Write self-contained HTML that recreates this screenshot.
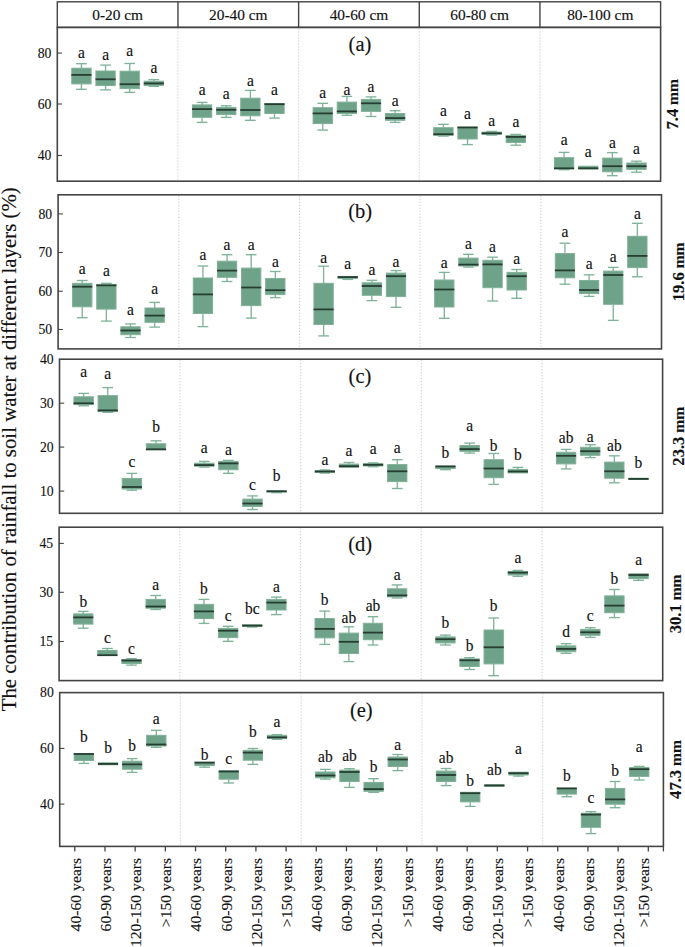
<!DOCTYPE html>
<html><head><meta charset="utf-8"><title>Boxplots</title>
<style>html,body{margin:0;padding:0;background:#fff;width:685px;height:947px;overflow:hidden}svg{display:block}
text{font-family:"Liberation Serif",serif;stroke:#151515;stroke-width:0.15px}</style></head>
<body>
<svg width="685" height="947" viewBox="0 0 685 947">
<rect width="685" height="947" fill="#fff"/>
<g fill="none" stroke="#444444" stroke-width="1.4">
<rect x="57.3" y="1.8" width="603.3" height="25.6"/>
<line x1="177.96" y1="1.8" x2="177.96" y2="27.4"/>
<line x1="298.62" y1="1.8" x2="298.62" y2="27.4"/>
<line x1="419.28" y1="1.8" x2="419.28" y2="27.4"/>
<line x1="539.94" y1="1.8" x2="539.94" y2="27.4"/>
</g>
<g font-family="Liberation Serif" font-size="15.4" fill="#111" text-anchor="middle">
<text x="117.63" y="20.1">0-20 cm</text>
<text x="238.29" y="20.1">20-40 cm</text>
<text x="358.95" y="20.1">40-60 cm</text>
<text x="479.61" y="20.1">60-80 cm</text>
<text x="600.27" y="20.1">80-100 cm</text>
</g>
<g stroke="#c8c8c8" stroke-width="1.2" stroke-dasharray="1 2">
<line x1="177.96" y1="28.4" x2="177.96" y2="180.2"/>
<line x1="298.62" y1="28.4" x2="298.62" y2="180.2"/>
<line x1="419.28" y1="28.4" x2="419.28" y2="180.2"/>
<line x1="539.94" y1="28.4" x2="539.94" y2="180.2"/>
</g>
<g stroke="#80b49a" stroke-width="1.35">
<line x1="81.43" y1="63.7" x2="81.43" y2="68.2"/>
<line x1="76.08" y1="63.7" x2="86.78" y2="63.7"/>
<line x1="81.43" y1="83.9" x2="81.43" y2="89.3"/>
<line x1="76.08" y1="89.3" x2="86.78" y2="89.3"/>
</g>
<rect x="71.78" y="68.2" width="19.3" height="15.7" fill="#6fa389" stroke="#7fb096" stroke-width="1"/>
<line x1="71.38" y1="74.9" x2="91.48" y2="74.9" stroke="#263d31" stroke-width="1.8"/>
<text x="0" y="0" transform="translate(81.43 57.6) scale(1 1.1) translate(0 0)" font-family="Liberation Serif" font-size="15.5" fill="#111" text-anchor="middle">a</text>
<g stroke="#80b49a" stroke-width="1.35">
<line x1="105.56" y1="65.1" x2="105.56" y2="71"/>
<line x1="100.21" y1="65.1" x2="110.91" y2="65.1"/>
<line x1="105.56" y1="85.6" x2="105.56" y2="89.9"/>
<line x1="100.21" y1="89.9" x2="110.91" y2="89.9"/>
</g>
<rect x="95.91" y="71" width="19.3" height="14.6" fill="#6fa389" stroke="#7fb096" stroke-width="1"/>
<line x1="95.51" y1="79.3" x2="115.61" y2="79.3" stroke="#263d31" stroke-width="1.8"/>
<text x="0" y="0" transform="translate(105.56 60.2) scale(1 1.1) translate(0 0)" font-family="Liberation Serif" font-size="15.5" fill="#111" text-anchor="middle">a</text>
<g stroke="#80b49a" stroke-width="1.35">
<line x1="129.7" y1="63.5" x2="129.7" y2="71.2"/>
<line x1="124.35" y1="63.5" x2="135.05" y2="63.5"/>
<line x1="129.7" y1="88.6" x2="129.7" y2="92.4"/>
<line x1="124.35" y1="92.4" x2="135.05" y2="92.4"/>
</g>
<rect x="120.05" y="71.2" width="19.3" height="17.4" fill="#6fa389" stroke="#7fb096" stroke-width="1"/>
<line x1="119.65" y1="84.2" x2="139.75" y2="84.2" stroke="#263d31" stroke-width="1.8"/>
<text x="0" y="0" transform="translate(129.7 56.2) scale(1 1.1) translate(0 0)" font-family="Liberation Serif" font-size="15.5" fill="#111" text-anchor="middle">a</text>
<g stroke="#80b49a" stroke-width="1.35">
<line x1="153.83" y1="79.6" x2="153.83" y2="81.2"/>
<line x1="148.48" y1="79.6" x2="159.18" y2="79.6"/>
<line x1="153.83" y1="85.4" x2="153.83" y2="86.3"/>
<line x1="148.48" y1="86.3" x2="159.18" y2="86.3"/>
</g>
<rect x="144.18" y="81.2" width="19.3" height="4.2" fill="#6fa389" stroke="#7fb096" stroke-width="1"/>
<line x1="143.78" y1="83.4" x2="163.88" y2="83.4" stroke="#263d31" stroke-width="1.8"/>
<text x="0" y="0" transform="translate(153.83 73.4) scale(1 1.1) translate(0 0)" font-family="Liberation Serif" font-size="15.5" fill="#111" text-anchor="middle">a</text>
<g stroke="#80b49a" stroke-width="1.35">
<line x1="202.09" y1="102.4" x2="202.09" y2="104.9"/>
<line x1="196.74" y1="102.4" x2="207.44" y2="102.4"/>
<line x1="202.09" y1="117.3" x2="202.09" y2="122.4"/>
<line x1="196.74" y1="122.4" x2="207.44" y2="122.4"/>
</g>
<rect x="192.44" y="104.9" width="19.3" height="12.4" fill="#6fa389" stroke="#7fb096" stroke-width="1"/>
<line x1="192.04" y1="109.1" x2="212.14" y2="109.1" stroke="#263d31" stroke-width="1.8"/>
<text x="0" y="0" transform="translate(202.09 94.7) scale(1 1.1) translate(0 0)" font-family="Liberation Serif" font-size="15.5" fill="#111" text-anchor="middle">a</text>
<g stroke="#80b49a" stroke-width="1.35">
<line x1="226.22" y1="105.8" x2="226.22" y2="107.4"/>
<line x1="220.87" y1="105.8" x2="231.57" y2="105.8"/>
<line x1="226.22" y1="114.6" x2="226.22" y2="117.4"/>
<line x1="220.87" y1="117.4" x2="231.57" y2="117.4"/>
</g>
<rect x="216.57" y="107.4" width="19.3" height="7.2" fill="#6fa389" stroke="#7fb096" stroke-width="1"/>
<line x1="216.17" y1="109.8" x2="236.27" y2="109.8" stroke="#263d31" stroke-width="1.8"/>
<text x="0" y="0" transform="translate(226.22 99.1) scale(1 1.1) translate(0 0)" font-family="Liberation Serif" font-size="15.5" fill="#111" text-anchor="middle">a</text>
<g stroke="#80b49a" stroke-width="1.35">
<line x1="250.36" y1="90.4" x2="250.36" y2="98.2"/>
<line x1="245.01" y1="90.4" x2="255.71" y2="90.4"/>
<line x1="250.36" y1="115.8" x2="250.36" y2="120.3"/>
<line x1="245.01" y1="120.3" x2="255.71" y2="120.3"/>
</g>
<rect x="240.71" y="98.2" width="19.3" height="17.6" fill="#6fa389" stroke="#7fb096" stroke-width="1"/>
<line x1="240.31" y1="110" x2="260.41" y2="110" stroke="#263d31" stroke-width="1.8"/>
<text x="0" y="0" transform="translate(250.36 85.5) scale(1 1.1) translate(0 0)" font-family="Liberation Serif" font-size="15.5" fill="#111" text-anchor="middle">a</text>
<g stroke="#80b49a" stroke-width="1.35">
<line x1="274.49" y1="113.5" x2="274.49" y2="118.1"/>
<line x1="269.14" y1="118.1" x2="279.84" y2="118.1"/>
</g>
<rect x="264.84" y="103.5" width="19.3" height="10" fill="#6fa389" stroke="#7fb096" stroke-width="1"/>
<line x1="264.44" y1="104.2" x2="284.54" y2="104.2" stroke="#263d31" stroke-width="1.8"/>
<text x="0" y="0" transform="translate(274.49 94.7) scale(1 1.1) translate(0 0)" font-family="Liberation Serif" font-size="15.5" fill="#111" text-anchor="middle">a</text>
<g stroke="#80b49a" stroke-width="1.35">
<line x1="322.75" y1="103.3" x2="322.75" y2="107.7"/>
<line x1="317.4" y1="103.3" x2="328.1" y2="103.3"/>
<line x1="322.75" y1="123.6" x2="322.75" y2="130.1"/>
<line x1="317.4" y1="130.1" x2="328.1" y2="130.1"/>
</g>
<rect x="313.1" y="107.7" width="19.3" height="15.9" fill="#6fa389" stroke="#7fb096" stroke-width="1"/>
<line x1="312.7" y1="113.4" x2="332.8" y2="113.4" stroke="#263d31" stroke-width="1.8"/>
<text x="0" y="0" transform="translate(322.75 97.7) scale(1 1.1) translate(0 0)" font-family="Liberation Serif" font-size="15.5" fill="#111" text-anchor="middle">a</text>
<g stroke="#80b49a" stroke-width="1.35">
<line x1="346.88" y1="96.4" x2="346.88" y2="102.1"/>
<line x1="341.53" y1="96.4" x2="352.23" y2="96.4"/>
<line x1="346.88" y1="113.5" x2="346.88" y2="115.3"/>
<line x1="341.53" y1="115.3" x2="352.23" y2="115.3"/>
</g>
<rect x="337.23" y="102.1" width="19.3" height="11.4" fill="#6fa389" stroke="#7fb096" stroke-width="1"/>
<line x1="336.83" y1="111.4" x2="356.93" y2="111.4" stroke="#263d31" stroke-width="1.8"/>
<text x="0" y="0" transform="translate(346.88 94.7) scale(1 1.1) translate(0 0)" font-family="Liberation Serif" font-size="15.5" fill="#111" text-anchor="middle">a</text>
<g stroke="#80b49a" stroke-width="1.35">
<line x1="371.02" y1="96.9" x2="371.02" y2="99.4"/>
<line x1="365.67" y1="96.9" x2="376.37" y2="96.9"/>
<line x1="371.02" y1="111.4" x2="371.02" y2="116.5"/>
<line x1="365.67" y1="116.5" x2="376.37" y2="116.5"/>
</g>
<rect x="361.37" y="99.4" width="19.3" height="12" fill="#6fa389" stroke="#7fb096" stroke-width="1"/>
<line x1="360.97" y1="103.3" x2="381.07" y2="103.3" stroke="#263d31" stroke-width="1.8"/>
<text x="0" y="0" transform="translate(371.02 92.2) scale(1 1.1) translate(0 0)" font-family="Liberation Serif" font-size="15.5" fill="#111" text-anchor="middle">a</text>
<g stroke="#80b49a" stroke-width="1.35">
<line x1="395.15" y1="110.7" x2="395.15" y2="113.5"/>
<line x1="389.8" y1="110.7" x2="400.5" y2="110.7"/>
<line x1="395.15" y1="120.3" x2="395.15" y2="122.4"/>
<line x1="389.8" y1="122.4" x2="400.5" y2="122.4"/>
</g>
<rect x="385.5" y="113.5" width="19.3" height="6.8" fill="#6fa389" stroke="#7fb096" stroke-width="1"/>
<line x1="385.1" y1="118.1" x2="405.2" y2="118.1" stroke="#263d31" stroke-width="1.8"/>
<text x="0" y="0" transform="translate(395.15 105.6) scale(1 1.1) translate(0 0)" font-family="Liberation Serif" font-size="15.5" fill="#111" text-anchor="middle">a</text>
<g stroke="#80b49a" stroke-width="1.35">
<line x1="443.41" y1="124.3" x2="443.41" y2="127.7"/>
<line x1="438.06" y1="124.3" x2="448.76" y2="124.3"/>
<line x1="443.41" y1="135.3" x2="443.41" y2="136.1"/>
<line x1="438.06" y1="136.1" x2="448.76" y2="136.1"/>
</g>
<rect x="433.76" y="127.7" width="19.3" height="7.6" fill="#6fa389" stroke="#7fb096" stroke-width="1"/>
<line x1="433.36" y1="134.2" x2="453.46" y2="134.2" stroke="#263d31" stroke-width="1.8"/>
<text x="0" y="0" transform="translate(443.41 116.2) scale(1 1.1) translate(0 0)" font-family="Liberation Serif" font-size="15.5" fill="#111" text-anchor="middle">a</text>
<g stroke="#80b49a" stroke-width="1.35">
<line x1="467.54" y1="139" x2="467.54" y2="144.6"/>
<line x1="462.19" y1="144.6" x2="472.89" y2="144.6"/>
</g>
<rect x="457.89" y="127.1" width="19.3" height="11.9" fill="#6fa389" stroke="#7fb096" stroke-width="1"/>
<line x1="457.49" y1="127.5" x2="477.59" y2="127.5" stroke="#263d31" stroke-width="1.8"/>
<text x="0" y="0" transform="translate(467.54 119.4) scale(1 1.1) translate(0 0)" font-family="Liberation Serif" font-size="15.5" fill="#111" text-anchor="middle">a</text>
<g stroke="#80b49a" stroke-width="1.35">
<line x1="491.68" y1="131.4" x2="491.68" y2="132.1"/>
<line x1="486.33" y1="131.4" x2="497.03" y2="131.4"/>
<line x1="491.68" y1="134.4" x2="491.68" y2="135.1"/>
<line x1="486.33" y1="135.1" x2="497.03" y2="135.1"/>
</g>
<rect x="482.03" y="132.1" width="19.3" height="2.3" fill="#6fa389" stroke="#7fb096" stroke-width="1"/>
<line x1="481.63" y1="133.3" x2="501.73" y2="133.3" stroke="#263d31" stroke-width="1.8"/>
<text x="0" y="0" transform="translate(491.68 126.1) scale(1 1.1) translate(0 0)" font-family="Liberation Serif" font-size="15.5" fill="#111" text-anchor="middle">a</text>
<g stroke="#80b49a" stroke-width="1.35">
<line x1="515.81" y1="134.4" x2="515.81" y2="135.4"/>
<line x1="510.46" y1="134.4" x2="521.16" y2="134.4"/>
<line x1="515.81" y1="142.5" x2="515.81" y2="145.2"/>
<line x1="510.46" y1="145.2" x2="521.16" y2="145.2"/>
</g>
<rect x="506.16" y="135.4" width="19.3" height="7.1" fill="#6fa389" stroke="#7fb096" stroke-width="1"/>
<line x1="505.76" y1="136.9" x2="525.86" y2="136.9" stroke="#263d31" stroke-width="1.8"/>
<text x="0" y="0" transform="translate(515.81 127.3) scale(1 1.1) translate(0 0)" font-family="Liberation Serif" font-size="15.5" fill="#111" text-anchor="middle">a</text>
<g stroke="#80b49a" stroke-width="1.35">
<line x1="564.07" y1="152.4" x2="564.07" y2="157.7"/>
<line x1="558.72" y1="152.4" x2="569.42" y2="152.4"/>
<line x1="564.07" y1="169" x2="564.07" y2="169.7"/>
<line x1="558.72" y1="169.7" x2="569.42" y2="169.7"/>
</g>
<rect x="554.42" y="157.7" width="19.3" height="11.3" fill="#6fa389" stroke="#7fb096" stroke-width="1"/>
<line x1="554.02" y1="168.3" x2="574.12" y2="168.3" stroke="#263d31" stroke-width="1.8"/>
<text x="0" y="0" transform="translate(564.07 145.3) scale(1 1.1) translate(0 0)" font-family="Liberation Serif" font-size="15.5" fill="#111" text-anchor="middle">a</text>
<g stroke="#80b49a" stroke-width="1.35">
</g>
<rect x="578.55" y="166.2" width="19.3" height="2.8" fill="#6fa389" stroke="#7fb096" stroke-width="1"/>
<line x1="578.15" y1="168.3" x2="598.25" y2="168.3" stroke="#263d31" stroke-width="1.8"/>
<text x="0" y="0" transform="translate(588.2 157.4) scale(1 1.1) translate(0 0)" font-family="Liberation Serif" font-size="15.5" fill="#111" text-anchor="middle">a</text>
<g stroke="#80b49a" stroke-width="1.35">
<line x1="612.34" y1="152.6" x2="612.34" y2="158.1"/>
<line x1="606.99" y1="152.6" x2="617.69" y2="152.6"/>
<line x1="612.34" y1="171.8" x2="612.34" y2="175.7"/>
<line x1="606.99" y1="175.7" x2="617.69" y2="175.7"/>
</g>
<rect x="602.69" y="158.1" width="19.3" height="13.7" fill="#6fa389" stroke="#7fb096" stroke-width="1"/>
<line x1="602.29" y1="166.2" x2="622.39" y2="166.2" stroke="#263d31" stroke-width="1.8"/>
<text x="0" y="0" transform="translate(612.34 147.5) scale(1 1.1) translate(0 0)" font-family="Liberation Serif" font-size="15.5" fill="#111" text-anchor="middle">a</text>
<g stroke="#80b49a" stroke-width="1.35">
<line x1="636.47" y1="161.2" x2="636.47" y2="163"/>
<line x1="631.12" y1="161.2" x2="641.82" y2="161.2"/>
<line x1="636.47" y1="169.4" x2="636.47" y2="172.2"/>
<line x1="631.12" y1="172.2" x2="641.82" y2="172.2"/>
</g>
<rect x="626.82" y="163" width="19.3" height="6.4" fill="#6fa389" stroke="#7fb096" stroke-width="1"/>
<line x1="626.42" y1="166.2" x2="646.52" y2="166.2" stroke="#263d31" stroke-width="1.8"/>
<text x="0" y="0" transform="translate(636.47 153.7) scale(1 1.1) translate(0 0)" font-family="Liberation Serif" font-size="15.5" fill="#111" text-anchor="middle">a</text>
<rect x="57.3" y="27.4" width="603.3" height="153.8" fill="none" stroke="#444444" stroke-width="1.6"/>
<g stroke="#444444" stroke-width="1.1">
<line x1="57.3" y1="53.1" x2="62" y2="53.1"/>
<line x1="57.3" y1="104" x2="62" y2="104"/>
<line x1="57.3" y1="155.5" x2="62" y2="155.5"/>
</g>
<g font-family="Liberation Serif" font-size="15.4" fill="#111" text-anchor="end">
<text transform="translate(51.4 57.7) scale(0.89 0.97)">80</text>
<text transform="translate(51.4 108.6) scale(0.89 0.97)">60</text>
<text transform="translate(51.4 160.1) scale(0.89 0.97)">40</text>
</g>
<text x="360" y="50.6" font-family="Liberation Serif" font-size="20.5" fill="#111" text-anchor="middle">(a)</text>
<text transform="translate(678 104.3) rotate(-90)" font-family="Liberation Serif" font-weight="bold" font-size="15.5" fill="#111" text-anchor="middle"><tspan font-size="16.6">7.4</tspan> mm</text>
<g stroke="#c8c8c8" stroke-width="1.2" stroke-dasharray="1 2">
<line x1="178.78" y1="195.8" x2="178.78" y2="347.9"/>
<line x1="299.46" y1="195.8" x2="299.46" y2="347.9"/>
<line x1="420.14" y1="195.8" x2="420.14" y2="347.9"/>
<line x1="540.82" y1="195.8" x2="540.82" y2="347.9"/>
</g>
<g stroke="#80b49a" stroke-width="1.35">
<line x1="82.24" y1="280.5" x2="82.24" y2="283.3"/>
<line x1="76.89" y1="280.5" x2="87.59" y2="280.5"/>
<line x1="82.24" y1="306.8" x2="82.24" y2="317.7"/>
<line x1="76.89" y1="317.7" x2="87.59" y2="317.7"/>
</g>
<rect x="72.59" y="283.3" width="19.3" height="23.5" fill="#6fa389" stroke="#7fb096" stroke-width="1"/>
<line x1="72.19" y1="286.7" x2="92.29" y2="286.7" stroke="#263d31" stroke-width="1.8"/>
<text x="0" y="0" transform="translate(82.24 273.6) scale(1 1.1) translate(0 0)" font-family="Liberation Serif" font-size="15.5" fill="#111" text-anchor="middle">a</text>
<g stroke="#80b49a" stroke-width="1.35">
<line x1="106.37" y1="283.3" x2="106.37" y2="284.4"/>
<line x1="101.02" y1="283.3" x2="111.72" y2="283.3"/>
<line x1="106.37" y1="309.1" x2="106.37" y2="321.1"/>
<line x1="101.02" y1="321.1" x2="111.72" y2="321.1"/>
</g>
<rect x="96.72" y="284.4" width="19.3" height="24.7" fill="#6fa389" stroke="#7fb096" stroke-width="1"/>
<line x1="96.32" y1="285.4" x2="116.42" y2="285.4" stroke="#263d31" stroke-width="1.8"/>
<text x="0" y="0" transform="translate(106.37 276.3) scale(1 1.1) translate(0 0)" font-family="Liberation Serif" font-size="15.5" fill="#111" text-anchor="middle">a</text>
<g stroke="#80b49a" stroke-width="1.35">
<line x1="130.51" y1="323.9" x2="130.51" y2="326.8"/>
<line x1="125.16" y1="323.9" x2="135.86" y2="323.9"/>
<line x1="130.51" y1="334.7" x2="130.51" y2="337.5"/>
<line x1="125.16" y1="337.5" x2="135.86" y2="337.5"/>
</g>
<rect x="120.86" y="326.8" width="19.3" height="7.9" fill="#6fa389" stroke="#7fb096" stroke-width="1"/>
<line x1="120.46" y1="330.5" x2="140.56" y2="330.5" stroke="#263d31" stroke-width="1.8"/>
<text x="0" y="0" transform="translate(130.51 315.1) scale(1 1.1) translate(0 0)" font-family="Liberation Serif" font-size="15.5" fill="#111" text-anchor="middle">a</text>
<g stroke="#80b49a" stroke-width="1.35">
<line x1="154.64" y1="302.4" x2="154.64" y2="308"/>
<line x1="149.29" y1="302.4" x2="159.99" y2="302.4"/>
<line x1="154.64" y1="322.3" x2="154.64" y2="327.1"/>
<line x1="149.29" y1="327.1" x2="159.99" y2="327.1"/>
</g>
<rect x="144.99" y="308" width="19.3" height="14.3" fill="#6fa389" stroke="#7fb096" stroke-width="1"/>
<line x1="144.59" y1="315.6" x2="164.69" y2="315.6" stroke="#263d31" stroke-width="1.8"/>
<text x="0" y="0" transform="translate(154.64 293.9) scale(1 1.1) translate(0 0)" font-family="Liberation Serif" font-size="15.5" fill="#111" text-anchor="middle">a</text>
<g stroke="#80b49a" stroke-width="1.35">
<line x1="202.92" y1="266" x2="202.92" y2="278"/>
<line x1="197.57" y1="266" x2="208.27" y2="266"/>
<line x1="202.92" y1="313.5" x2="202.92" y2="326.6"/>
<line x1="197.57" y1="326.6" x2="208.27" y2="326.6"/>
</g>
<rect x="193.27" y="278" width="19.3" height="35.5" fill="#6fa389" stroke="#7fb096" stroke-width="1"/>
<line x1="192.87" y1="294.4" x2="212.97" y2="294.4" stroke="#263d31" stroke-width="1.8"/>
<text x="0" y="0" transform="translate(202.92 260) scale(1 1.1) translate(0 0)" font-family="Liberation Serif" font-size="15.5" fill="#111" text-anchor="middle">a</text>
<g stroke="#80b49a" stroke-width="1.35">
<line x1="227.05" y1="254.7" x2="227.05" y2="261.2"/>
<line x1="221.7" y1="254.7" x2="232.4" y2="254.7"/>
<line x1="227.05" y1="277.3" x2="227.05" y2="281.5"/>
<line x1="221.7" y1="281.5" x2="232.4" y2="281.5"/>
</g>
<rect x="217.4" y="261.2" width="19.3" height="16.1" fill="#6fa389" stroke="#7fb096" stroke-width="1"/>
<line x1="217" y1="270.6" x2="237.1" y2="270.6" stroke="#263d31" stroke-width="1.8"/>
<text x="0" y="0" transform="translate(227.05 249.8) scale(1 1.1) translate(0 0)" font-family="Liberation Serif" font-size="15.5" fill="#111" text-anchor="middle">a</text>
<g stroke="#80b49a" stroke-width="1.35">
<line x1="251.19" y1="254.7" x2="251.19" y2="268.1"/>
<line x1="245.84" y1="254.7" x2="256.54" y2="254.7"/>
<line x1="251.19" y1="305.6" x2="251.19" y2="318.1"/>
<line x1="245.84" y1="318.1" x2="256.54" y2="318.1"/>
</g>
<rect x="241.54" y="268.1" width="19.3" height="37.5" fill="#6fa389" stroke="#7fb096" stroke-width="1"/>
<line x1="241.14" y1="287.5" x2="261.24" y2="287.5" stroke="#263d31" stroke-width="1.8"/>
<text x="0" y="0" transform="translate(251.19 249.8) scale(1 1.1) translate(0 0)" font-family="Liberation Serif" font-size="15.5" fill="#111" text-anchor="middle">a</text>
<g stroke="#80b49a" stroke-width="1.35">
<line x1="275.32" y1="271.5" x2="275.32" y2="278.5"/>
<line x1="269.97" y1="271.5" x2="280.67" y2="271.5"/>
<line x1="275.32" y1="294.6" x2="275.32" y2="297.6"/>
<line x1="269.97" y1="297.6" x2="280.67" y2="297.6"/>
</g>
<rect x="265.67" y="278.5" width="19.3" height="16.1" fill="#6fa389" stroke="#7fb096" stroke-width="1"/>
<line x1="265.27" y1="290.2" x2="285.37" y2="290.2" stroke="#263d31" stroke-width="1.8"/>
<text x="0" y="0" transform="translate(275.32 266.9) scale(1 1.1) translate(0 0)" font-family="Liberation Serif" font-size="15.5" fill="#111" text-anchor="middle">a</text>
<g stroke="#80b49a" stroke-width="1.35">
<line x1="323.6" y1="266.2" x2="323.6" y2="283.3"/>
<line x1="318.25" y1="266.2" x2="328.95" y2="266.2"/>
<line x1="323.6" y1="324.5" x2="323.6" y2="335.9"/>
<line x1="318.25" y1="335.9" x2="328.95" y2="335.9"/>
</g>
<rect x="313.95" y="283.3" width="19.3" height="41.2" fill="#6fa389" stroke="#7fb096" stroke-width="1"/>
<line x1="313.55" y1="309.4" x2="333.65" y2="309.4" stroke="#263d31" stroke-width="1.8"/>
<text x="0" y="0" transform="translate(323.6 262.7) scale(1 1.1) translate(0 0)" font-family="Liberation Serif" font-size="15.5" fill="#111" text-anchor="middle">a</text>
<g stroke="#80b49a" stroke-width="1.35">
<line x1="347.73" y1="278.4" x2="347.73" y2="279.4"/>
<line x1="342.38" y1="279.4" x2="353.08" y2="279.4"/>
</g>
<rect x="338.08" y="276.4" width="19.3" height="2" fill="#6fa389" stroke="#7fb096" stroke-width="1"/>
<line x1="337.68" y1="277.1" x2="357.78" y2="277.1" stroke="#263d31" stroke-width="1.8"/>
<text x="0" y="0" transform="translate(347.73 268.7) scale(1 1.1) translate(0 0)" font-family="Liberation Serif" font-size="15.5" fill="#111" text-anchor="middle">a</text>
<g stroke="#80b49a" stroke-width="1.35">
<line x1="371.87" y1="280.3" x2="371.87" y2="282.8"/>
<line x1="366.52" y1="280.3" x2="377.22" y2="280.3"/>
<line x1="371.87" y1="295.3" x2="371.87" y2="300.6"/>
<line x1="366.52" y1="300.6" x2="377.22" y2="300.6"/>
</g>
<rect x="362.22" y="282.8" width="19.3" height="12.5" fill="#6fa389" stroke="#7fb096" stroke-width="1"/>
<line x1="361.82" y1="286" x2="381.92" y2="286" stroke="#263d31" stroke-width="1.8"/>
<text x="0" y="0" transform="translate(371.87 274.5) scale(1 1.1) translate(0 0)" font-family="Liberation Serif" font-size="15.5" fill="#111" text-anchor="middle">a</text>
<g stroke="#80b49a" stroke-width="1.35">
<line x1="396" y1="270.6" x2="396" y2="273.1"/>
<line x1="390.65" y1="270.6" x2="401.35" y2="270.6"/>
<line x1="396" y1="296.6" x2="396" y2="307.3"/>
<line x1="390.65" y1="307.3" x2="401.35" y2="307.3"/>
</g>
<rect x="386.35" y="273.1" width="19.3" height="23.5" fill="#6fa389" stroke="#7fb096" stroke-width="1"/>
<line x1="385.95" y1="276.2" x2="406.05" y2="276.2" stroke="#263d31" stroke-width="1.8"/>
<text x="0" y="0" transform="translate(396 267.1) scale(1 1.1) translate(0 0)" font-family="Liberation Serif" font-size="15.5" fill="#111" text-anchor="middle">a</text>
<g stroke="#80b49a" stroke-width="1.35">
<line x1="444.28" y1="272.4" x2="444.28" y2="280"/>
<line x1="438.93" y1="272.4" x2="449.63" y2="272.4"/>
<line x1="444.28" y1="307" x2="444.28" y2="318.3"/>
<line x1="438.93" y1="318.3" x2="449.63" y2="318.3"/>
</g>
<rect x="434.63" y="280" width="19.3" height="27" fill="#6fa389" stroke="#7fb096" stroke-width="1"/>
<line x1="434.23" y1="289.5" x2="454.33" y2="289.5" stroke="#263d31" stroke-width="1.8"/>
<text x="0" y="0" transform="translate(444.28 268) scale(1 1.1) translate(0 0)" font-family="Liberation Serif" font-size="15.5" fill="#111" text-anchor="middle">a</text>
<g stroke="#80b49a" stroke-width="1.35">
<line x1="468.41" y1="254.3" x2="468.41" y2="258.1"/>
<line x1="463.06" y1="254.3" x2="473.76" y2="254.3"/>
<line x1="468.41" y1="266" x2="468.41" y2="267.1"/>
<line x1="463.06" y1="267.1" x2="473.76" y2="267.1"/>
</g>
<rect x="458.76" y="258.1" width="19.3" height="7.9" fill="#6fa389" stroke="#7fb096" stroke-width="1"/>
<line x1="458.36" y1="264.6" x2="478.46" y2="264.6" stroke="#263d31" stroke-width="1.8"/>
<text x="0" y="0" transform="translate(468.41 248.5) scale(1 1.1) translate(0 0)" font-family="Liberation Serif" font-size="15.5" fill="#111" text-anchor="middle">a</text>
<g stroke="#80b49a" stroke-width="1.35">
<line x1="492.55" y1="257.2" x2="492.55" y2="260.3"/>
<line x1="487.2" y1="257.2" x2="497.9" y2="257.2"/>
<line x1="492.55" y1="287.7" x2="492.55" y2="301"/>
<line x1="487.2" y1="301" x2="497.9" y2="301"/>
</g>
<rect x="482.9" y="260.3" width="19.3" height="27.4" fill="#6fa389" stroke="#7fb096" stroke-width="1"/>
<line x1="482.5" y1="264.4" x2="502.6" y2="264.4" stroke="#263d31" stroke-width="1.8"/>
<text x="0" y="0" transform="translate(492.55 251.7) scale(1 1.1) translate(0 0)" font-family="Liberation Serif" font-size="15.5" fill="#111" text-anchor="middle">a</text>
<g stroke="#80b49a" stroke-width="1.35">
<line x1="516.68" y1="269.5" x2="516.68" y2="272.4"/>
<line x1="511.33" y1="269.5" x2="522.03" y2="269.5"/>
<line x1="516.68" y1="290" x2="516.68" y2="298.3"/>
<line x1="511.33" y1="298.3" x2="522.03" y2="298.3"/>
</g>
<rect x="507.03" y="272.4" width="19.3" height="17.6" fill="#6fa389" stroke="#7fb096" stroke-width="1"/>
<line x1="506.63" y1="276.2" x2="526.73" y2="276.2" stroke="#263d31" stroke-width="1.8"/>
<text x="0" y="0" transform="translate(516.68 263.9) scale(1 1.1) translate(0 0)" font-family="Liberation Serif" font-size="15.5" fill="#111" text-anchor="middle">a</text>
<g stroke="#80b49a" stroke-width="1.35">
<line x1="564.96" y1="243.2" x2="564.96" y2="253.6"/>
<line x1="559.61" y1="243.2" x2="570.31" y2="243.2"/>
<line x1="564.96" y1="277.8" x2="564.96" y2="284.2"/>
<line x1="559.61" y1="284.2" x2="570.31" y2="284.2"/>
</g>
<rect x="555.31" y="253.6" width="19.3" height="24.2" fill="#6fa389" stroke="#7fb096" stroke-width="1"/>
<line x1="554.91" y1="270.4" x2="575.01" y2="270.4" stroke="#263d31" stroke-width="1.8"/>
<text x="0" y="0" transform="translate(564.96 237.4) scale(1 1.1) translate(0 0)" font-family="Liberation Serif" font-size="15.5" fill="#111" text-anchor="middle">a</text>
<g stroke="#80b49a" stroke-width="1.35">
<line x1="589.09" y1="274.8" x2="589.09" y2="280.5"/>
<line x1="583.74" y1="274.8" x2="594.44" y2="274.8"/>
<line x1="589.09" y1="293.6" x2="589.09" y2="296.4"/>
<line x1="583.74" y1="296.4" x2="594.44" y2="296.4"/>
</g>
<rect x="579.44" y="280.5" width="19.3" height="13.1" fill="#6fa389" stroke="#7fb096" stroke-width="1"/>
<line x1="579.04" y1="290" x2="599.14" y2="290" stroke="#263d31" stroke-width="1.8"/>
<text x="0" y="0" transform="translate(589.09 269.2) scale(1 1.1) translate(0 0)" font-family="Liberation Serif" font-size="15.5" fill="#111" text-anchor="middle">a</text>
<g stroke="#80b49a" stroke-width="1.35">
<line x1="613.23" y1="267.4" x2="613.23" y2="271.1"/>
<line x1="607.88" y1="267.4" x2="618.58" y2="267.4"/>
<line x1="613.23" y1="304.3" x2="613.23" y2="320.4"/>
<line x1="607.88" y1="320.4" x2="618.58" y2="320.4"/>
</g>
<rect x="603.58" y="271.1" width="19.3" height="33.2" fill="#6fa389" stroke="#7fb096" stroke-width="1"/>
<line x1="603.18" y1="275" x2="623.28" y2="275" stroke="#263d31" stroke-width="1.8"/>
<text x="0" y="0" transform="translate(613.23 261.8) scale(1 1.1) translate(0 0)" font-family="Liberation Serif" font-size="15.5" fill="#111" text-anchor="middle">a</text>
<g stroke="#80b49a" stroke-width="1.35">
<line x1="637.36" y1="223.3" x2="637.36" y2="236.3"/>
<line x1="632.01" y1="223.3" x2="642.71" y2="223.3"/>
<line x1="637.36" y1="267.6" x2="637.36" y2="276.8"/>
<line x1="632.01" y1="276.8" x2="642.71" y2="276.8"/>
</g>
<rect x="627.71" y="236.3" width="19.3" height="31.3" fill="#6fa389" stroke="#7fb096" stroke-width="1"/>
<line x1="627.31" y1="255.9" x2="647.41" y2="255.9" stroke="#263d31" stroke-width="1.8"/>
<text x="0" y="0" transform="translate(637.36 218.9) scale(1 1.1) translate(0 0)" font-family="Liberation Serif" font-size="15.5" fill="#111" text-anchor="middle">a</text>
<rect x="58.1" y="194.8" width="603.4" height="154.1" fill="none" stroke="#444444" stroke-width="1.6"/>
<g stroke="#444444" stroke-width="1.1">
<line x1="58.1" y1="213.9" x2="62.8" y2="213.9"/>
<line x1="58.1" y1="252.5" x2="62.8" y2="252.5"/>
<line x1="58.1" y1="291.2" x2="62.8" y2="291.2"/>
<line x1="58.1" y1="329.5" x2="62.8" y2="329.5"/>
</g>
<g font-family="Liberation Serif" font-size="15.4" fill="#111" text-anchor="end">
<text transform="translate(52.2 218.5) scale(0.89 0.97)">80</text>
<text transform="translate(52.2 257.1) scale(0.89 0.97)">70</text>
<text transform="translate(52.2 295.8) scale(0.89 0.97)">60</text>
<text transform="translate(52.2 334.1) scale(0.89 0.97)">50</text>
</g>
<text x="360.15" y="218" font-family="Liberation Serif" font-size="20.5" fill="#111" text-anchor="middle">(b)</text>
<text transform="translate(684.1 271.85) rotate(-90)" font-family="Liberation Serif" font-weight="bold" font-size="15.5" fill="#111" text-anchor="middle"><tspan font-size="16.6">19.6</tspan> mm</text>
<g stroke="#c8c8c8" stroke-width="1.2" stroke-dasharray="1 2">
<line x1="180.12" y1="360.2" x2="180.12" y2="512.3"/>
<line x1="300.74" y1="360.2" x2="300.74" y2="512.3"/>
<line x1="421.36" y1="360.2" x2="421.36" y2="512.3"/>
<line x1="541.98" y1="360.2" x2="541.98" y2="512.3"/>
</g>
<g stroke="#80b49a" stroke-width="1.35">
<line x1="83.62" y1="393.4" x2="83.62" y2="396.8"/>
<line x1="78.27" y1="393.4" x2="88.97" y2="393.4"/>
<line x1="83.62" y1="404.6" x2="83.62" y2="405.8"/>
<line x1="78.27" y1="405.8" x2="88.97" y2="405.8"/>
</g>
<rect x="73.97" y="396.8" width="19.3" height="7.8" fill="#6fa389" stroke="#7fb096" stroke-width="1"/>
<line x1="73.57" y1="403.3" x2="93.67" y2="403.3" stroke="#263d31" stroke-width="1.8"/>
<text x="0" y="0" transform="translate(83.62 376.7) scale(1 1.1) translate(0 0)" font-family="Liberation Serif" font-size="15.5" fill="#111" text-anchor="middle">a</text>
<g stroke="#80b49a" stroke-width="1.35">
<line x1="107.75" y1="387.6" x2="107.75" y2="395.6"/>
<line x1="102.4" y1="387.6" x2="113.1" y2="387.6"/>
<line x1="107.75" y1="411.6" x2="107.75" y2="412.3"/>
<line x1="102.4" y1="412.3" x2="113.1" y2="412.3"/>
</g>
<rect x="98.1" y="395.6" width="19.3" height="16" fill="#6fa389" stroke="#7fb096" stroke-width="1"/>
<line x1="97.7" y1="410.4" x2="117.8" y2="410.4" stroke="#263d31" stroke-width="1.8"/>
<text x="0" y="0" transform="translate(107.75 379.3) scale(1 1.1) translate(0 0)" font-family="Liberation Serif" font-size="15.5" fill="#111" text-anchor="middle">a</text>
<g stroke="#80b49a" stroke-width="1.35">
<line x1="131.87" y1="473.4" x2="131.87" y2="478.4"/>
<line x1="126.52" y1="473.4" x2="137.22" y2="473.4"/>
<line x1="131.87" y1="489" x2="131.87" y2="490.2"/>
<line x1="126.52" y1="490.2" x2="137.22" y2="490.2"/>
</g>
<rect x="122.22" y="478.4" width="19.3" height="10.6" fill="#6fa389" stroke="#7fb096" stroke-width="1"/>
<line x1="121.82" y1="487" x2="141.92" y2="487" stroke="#263d31" stroke-width="1.8"/>
<text x="0" y="0" transform="translate(131.87 467.1) scale(1 1.1) translate(0 0)" font-family="Liberation Serif" font-size="15.5" fill="#111" text-anchor="middle">c</text>
<g stroke="#80b49a" stroke-width="1.35">
<line x1="156" y1="440.8" x2="156" y2="443.8"/>
<line x1="150.65" y1="440.8" x2="161.35" y2="440.8"/>
</g>
<rect x="146.35" y="443.8" width="19.3" height="6" fill="#6fa389" stroke="#7fb096" stroke-width="1"/>
<line x1="145.95" y1="449.3" x2="166.05" y2="449.3" stroke="#263d31" stroke-width="1.8"/>
<text x="0" y="0" transform="translate(156 432.3) scale(1 1.1) translate(0 0)" font-family="Liberation Serif" font-size="15.5" fill="#111" text-anchor="middle">b</text>
<g stroke="#80b49a" stroke-width="1.35">
<line x1="204.24" y1="461.4" x2="204.24" y2="463.2"/>
<line x1="198.89" y1="461.4" x2="209.59" y2="461.4"/>
<line x1="204.24" y1="466.2" x2="204.24" y2="467.1"/>
<line x1="198.89" y1="467.1" x2="209.59" y2="467.1"/>
</g>
<rect x="194.59" y="463.2" width="19.3" height="3" fill="#6fa389" stroke="#7fb096" stroke-width="1"/>
<line x1="194.19" y1="465.1" x2="214.29" y2="465.1" stroke="#263d31" stroke-width="1.8"/>
<text x="0" y="0" transform="translate(204.24 453.2) scale(1 1.1) translate(0 0)" font-family="Liberation Serif" font-size="15.5" fill="#111" text-anchor="middle">a</text>
<g stroke="#80b49a" stroke-width="1.35">
<line x1="228.37" y1="460.4" x2="228.37" y2="461.4"/>
<line x1="223.02" y1="460.4" x2="233.72" y2="460.4"/>
<line x1="228.37" y1="469.7" x2="228.37" y2="473.3"/>
<line x1="223.02" y1="473.3" x2="233.72" y2="473.3"/>
</g>
<rect x="218.72" y="461.4" width="19.3" height="8.3" fill="#6fa389" stroke="#7fb096" stroke-width="1"/>
<line x1="218.32" y1="463.4" x2="238.42" y2="463.4" stroke="#263d31" stroke-width="1.8"/>
<text x="0" y="0" transform="translate(228.37 455.3) scale(1 1.1) translate(0 0)" font-family="Liberation Serif" font-size="15.5" fill="#111" text-anchor="middle">a</text>
<g stroke="#80b49a" stroke-width="1.35">
<line x1="252.49" y1="495.9" x2="252.49" y2="499.1"/>
<line x1="247.14" y1="495.9" x2="257.84" y2="495.9"/>
<line x1="252.49" y1="506.5" x2="252.49" y2="509.5"/>
<line x1="247.14" y1="509.5" x2="257.84" y2="509.5"/>
</g>
<rect x="242.84" y="499.1" width="19.3" height="7.4" fill="#6fa389" stroke="#7fb096" stroke-width="1"/>
<line x1="242.44" y1="503.5" x2="262.54" y2="503.5" stroke="#263d31" stroke-width="1.8"/>
<text x="0" y="0" transform="translate(252.49 490.1) scale(1 1.1) translate(0 0)" font-family="Liberation Serif" font-size="15.5" fill="#111" text-anchor="middle">c</text>
<g stroke="#80b49a" stroke-width="1.35">
<line x1="276.62" y1="492" x2="276.62" y2="492.7"/>
<line x1="271.27" y1="492.7" x2="281.97" y2="492.7"/>
</g>
<rect x="266.97" y="490.8" width="19.3" height="1.2" fill="#6fa389" stroke="#7fb096" stroke-width="1"/>
<line x1="266.57" y1="491.3" x2="286.67" y2="491.3" stroke="#263d31" stroke-width="1.8"/>
<text x="0" y="0" transform="translate(276.62 481.4) scale(1 1.1) translate(0 0)" font-family="Liberation Serif" font-size="15.5" fill="#111" text-anchor="middle">b</text>
<g stroke="#80b49a" stroke-width="1.35">
<line x1="324.86" y1="469.9" x2="324.86" y2="470.6"/>
<line x1="319.51" y1="469.9" x2="330.21" y2="469.9"/>
<line x1="324.86" y1="472.4" x2="324.86" y2="473.1"/>
<line x1="319.51" y1="473.1" x2="330.21" y2="473.1"/>
</g>
<rect x="315.21" y="470.6" width="19.3" height="1.8" fill="#6fa389" stroke="#7fb096" stroke-width="1"/>
<line x1="314.81" y1="471.5" x2="334.91" y2="471.5" stroke="#263d31" stroke-width="1.8"/>
<text x="0" y="0" transform="translate(324.86 465) scale(1 1.1) translate(0 0)" font-family="Liberation Serif" font-size="15.5" fill="#111" text-anchor="middle">a</text>
<g stroke="#80b49a" stroke-width="1.35">
<line x1="348.99" y1="462.5" x2="348.99" y2="464.1"/>
<line x1="343.64" y1="462.5" x2="354.34" y2="462.5"/>
</g>
<rect x="339.34" y="464.1" width="19.3" height="3.2" fill="#6fa389" stroke="#7fb096" stroke-width="1"/>
<line x1="338.94" y1="466.2" x2="359.04" y2="466.2" stroke="#263d31" stroke-width="1.8"/>
<text x="0" y="0" transform="translate(348.99 456.2) scale(1 1.1) translate(0 0)" font-family="Liberation Serif" font-size="15.5" fill="#111" text-anchor="middle">a</text>
<g stroke="#80b49a" stroke-width="1.35">
<line x1="373.11" y1="462.9" x2="373.11" y2="463.6"/>
<line x1="367.76" y1="462.9" x2="378.46" y2="462.9"/>
<line x1="373.11" y1="466" x2="373.11" y2="466.7"/>
<line x1="367.76" y1="466.7" x2="378.46" y2="466.7"/>
</g>
<rect x="363.46" y="463.6" width="19.3" height="2.4" fill="#6fa389" stroke="#7fb096" stroke-width="1"/>
<line x1="363.06" y1="464.8" x2="383.16" y2="464.8" stroke="#263d31" stroke-width="1.8"/>
<text x="0" y="0" transform="translate(373.11 454.4) scale(1 1.1) translate(0 0)" font-family="Liberation Serif" font-size="15.5" fill="#111" text-anchor="middle">a</text>
<g stroke="#80b49a" stroke-width="1.35">
<line x1="397.24" y1="459.7" x2="397.24" y2="464.6"/>
<line x1="391.89" y1="459.7" x2="402.59" y2="459.7"/>
<line x1="397.24" y1="481.6" x2="397.24" y2="488.5"/>
<line x1="391.89" y1="488.5" x2="402.59" y2="488.5"/>
</g>
<rect x="387.59" y="464.6" width="19.3" height="17" fill="#6fa389" stroke="#7fb096" stroke-width="1"/>
<line x1="387.19" y1="471.3" x2="407.29" y2="471.3" stroke="#263d31" stroke-width="1.8"/>
<text x="0" y="0" transform="translate(397.24 452.6) scale(1 1.1) translate(0 0)" font-family="Liberation Serif" font-size="15.5" fill="#111" text-anchor="middle">a</text>
<g stroke="#80b49a" stroke-width="1.35">
<line x1="445.48" y1="468.5" x2="445.48" y2="469.7"/>
<line x1="440.13" y1="469.7" x2="450.83" y2="469.7"/>
</g>
<rect x="435.83" y="466.2" width="19.3" height="2.3" fill="#6fa389" stroke="#7fb096" stroke-width="1"/>
<line x1="435.43" y1="466.4" x2="455.53" y2="466.4" stroke="#263d31" stroke-width="1.8"/>
<text x="0" y="0" transform="translate(445.48 457.6) scale(1 1.1) translate(0 0)" font-family="Liberation Serif" font-size="15.5" fill="#111" text-anchor="middle">b</text>
<g stroke="#80b49a" stroke-width="1.35">
<line x1="469.61" y1="443.1" x2="469.61" y2="445.5"/>
<line x1="464.26" y1="443.1" x2="474.96" y2="443.1"/>
<line x1="469.61" y1="451.4" x2="469.61" y2="453.1"/>
<line x1="464.26" y1="453.1" x2="474.96" y2="453.1"/>
</g>
<rect x="459.96" y="445.5" width="19.3" height="5.9" fill="#6fa389" stroke="#7fb096" stroke-width="1"/>
<line x1="459.56" y1="449.1" x2="479.66" y2="449.1" stroke="#263d31" stroke-width="1.8"/>
<text x="0" y="0" transform="translate(469.61 430.5) scale(1 1.1) translate(0 0)" font-family="Liberation Serif" font-size="15.5" fill="#111" text-anchor="middle">a</text>
<g stroke="#80b49a" stroke-width="1.35">
<line x1="493.73" y1="453.5" x2="493.73" y2="459.7"/>
<line x1="488.38" y1="453.5" x2="499.08" y2="453.5"/>
<line x1="493.73" y1="477.7" x2="493.73" y2="484.4"/>
<line x1="488.38" y1="484.4" x2="499.08" y2="484.4"/>
</g>
<rect x="484.08" y="459.7" width="19.3" height="18" fill="#6fa389" stroke="#7fb096" stroke-width="1"/>
<line x1="483.68" y1="468.5" x2="503.78" y2="468.5" stroke="#263d31" stroke-width="1.8"/>
<text x="0" y="0" transform="translate(493.73 451.2) scale(1 1.1) translate(0 0)" font-family="Liberation Serif" font-size="15.5" fill="#111" text-anchor="middle">b</text>
<g stroke="#80b49a" stroke-width="1.35">
<line x1="517.86" y1="467.4" x2="517.86" y2="469.4"/>
<line x1="512.51" y1="467.4" x2="523.21" y2="467.4"/>
</g>
<rect x="508.21" y="469.4" width="19.3" height="3.5" fill="#6fa389" stroke="#7fb096" stroke-width="1"/>
<line x1="507.81" y1="471.5" x2="527.91" y2="471.5" stroke="#263d31" stroke-width="1.8"/>
<text x="0" y="0" transform="translate(517.86 460.2) scale(1 1.1) translate(0 0)" font-family="Liberation Serif" font-size="15.5" fill="#111" text-anchor="middle">b</text>
<g stroke="#80b49a" stroke-width="1.35">
<line x1="566.1" y1="449.4" x2="566.1" y2="452.3"/>
<line x1="560.75" y1="449.4" x2="571.45" y2="449.4"/>
<line x1="566.1" y1="463.9" x2="566.1" y2="468.9"/>
<line x1="560.75" y1="468.9" x2="571.45" y2="468.9"/>
</g>
<rect x="556.45" y="452.3" width="19.3" height="11.6" fill="#6fa389" stroke="#7fb096" stroke-width="1"/>
<line x1="556.05" y1="455.8" x2="576.15" y2="455.8" stroke="#263d31" stroke-width="1.8"/>
<text x="0" y="0" transform="translate(566.1 442.9) scale(1 1.1) translate(0 0)" font-family="Liberation Serif" font-size="15.5" fill="#111" text-anchor="middle">ab</text>
<g stroke="#80b49a" stroke-width="1.35">
<line x1="590.23" y1="444.7" x2="590.23" y2="447.3"/>
<line x1="584.88" y1="444.7" x2="595.58" y2="444.7"/>
<line x1="590.23" y1="455.3" x2="590.23" y2="457.6"/>
<line x1="584.88" y1="457.6" x2="595.58" y2="457.6"/>
</g>
<rect x="580.58" y="447.3" width="19.3" height="8" fill="#6fa389" stroke="#7fb096" stroke-width="1"/>
<line x1="580.18" y1="451.2" x2="600.28" y2="451.2" stroke="#263d31" stroke-width="1.8"/>
<text x="0" y="0" transform="translate(590.23 441.5) scale(1 1.1) translate(0 0)" font-family="Liberation Serif" font-size="15.5" fill="#111" text-anchor="middle">a</text>
<g stroke="#80b49a" stroke-width="1.35">
<line x1="614.35" y1="455.8" x2="614.35" y2="462.1"/>
<line x1="609" y1="455.8" x2="619.7" y2="455.8"/>
<line x1="614.35" y1="478.2" x2="614.35" y2="482.8"/>
<line x1="609" y1="482.8" x2="619.7" y2="482.8"/>
</g>
<rect x="604.7" y="462.1" width="19.3" height="16.1" fill="#6fa389" stroke="#7fb096" stroke-width="1"/>
<line x1="604.3" y1="471.3" x2="624.4" y2="471.3" stroke="#263d31" stroke-width="1.8"/>
<text x="0" y="0" transform="translate(614.35 451.4) scale(1 1.1) translate(0 0)" font-family="Liberation Serif" font-size="15.5" fill="#111" text-anchor="middle">ab</text>
<g stroke="#80b49a" stroke-width="1.35">
</g>
<rect x="628.83" y="478.2" width="19.3" height="1.3" fill="#6fa389" stroke="#7fb096" stroke-width="1"/>
<line x1="628.43" y1="478.9" x2="648.53" y2="478.9" stroke="#263d31" stroke-width="1.8"/>
<text x="0" y="0" transform="translate(638.48 467.6) scale(1 1.1) translate(0 0)" font-family="Liberation Serif" font-size="15.5" fill="#111" text-anchor="middle">b</text>
<rect x="59.5" y="359.2" width="603.1" height="154.1" fill="none" stroke="#444444" stroke-width="1.6"/>
<g stroke="#444444" stroke-width="1.1">
<line x1="59.5" y1="403.2" x2="64.2" y2="403.2"/>
<line x1="59.5" y1="447.1" x2="64.2" y2="447.1"/>
<line x1="59.5" y1="491.1" x2="64.2" y2="491.1"/>
</g>
<g font-family="Liberation Serif" font-size="15.4" fill="#111" text-anchor="end">
<text transform="translate(53.6 363.8) scale(0.89 0.97)">40</text>
<text transform="translate(53.6 407.8) scale(0.89 0.97)">30</text>
<text transform="translate(53.6 451.7) scale(0.89 0.97)">20</text>
<text transform="translate(53.6 495.7) scale(0.89 0.97)">10</text>
</g>
<text x="360" y="383" font-family="Liberation Serif" font-size="20.5" fill="#111" text-anchor="middle">(c)</text>
<text transform="translate(683.7 436.25) rotate(-90)" font-family="Liberation Serif" font-weight="bold" font-size="15.5" fill="#111" text-anchor="middle"><tspan font-size="16.6">23.3</tspan> mm</text>
<g stroke="#c8c8c8" stroke-width="1.2" stroke-dasharray="1 2">
<line x1="179.82" y1="528.2" x2="179.82" y2="679.6"/>
<line x1="300.54" y1="528.2" x2="300.54" y2="679.6"/>
<line x1="421.26" y1="528.2" x2="421.26" y2="679.6"/>
<line x1="541.98" y1="528.2" x2="541.98" y2="679.6"/>
</g>
<g stroke="#80b49a" stroke-width="1.35">
<line x1="83.24" y1="611.4" x2="83.24" y2="613.9"/>
<line x1="77.89" y1="611.4" x2="88.59" y2="611.4"/>
<line x1="83.24" y1="624.1" x2="83.24" y2="628.2"/>
<line x1="77.89" y1="628.2" x2="88.59" y2="628.2"/>
</g>
<rect x="73.59" y="613.9" width="19.3" height="10.2" fill="#6fa389" stroke="#7fb096" stroke-width="1"/>
<line x1="73.19" y1="617.4" x2="93.29" y2="617.4" stroke="#263d31" stroke-width="1.8"/>
<text x="0" y="0" transform="translate(83.24 606.5) scale(1 1.1) translate(0 0)" font-family="Liberation Serif" font-size="15.5" fill="#111" text-anchor="middle">b</text>
<g stroke="#80b49a" stroke-width="1.35">
<line x1="107.39" y1="648.5" x2="107.39" y2="650.5"/>
<line x1="102.04" y1="648.5" x2="112.74" y2="648.5"/>
</g>
<rect x="97.74" y="650.5" width="19.3" height="4.9" fill="#6fa389" stroke="#7fb096" stroke-width="1"/>
<line x1="97.34" y1="655.2" x2="117.44" y2="655.2" stroke="#263d31" stroke-width="1.8"/>
<text x="0" y="0" transform="translate(107.39 643.1) scale(1 1.1) translate(0 0)" font-family="Liberation Serif" font-size="15.5" fill="#111" text-anchor="middle">c</text>
<g stroke="#80b49a" stroke-width="1.35">
<line x1="131.53" y1="658.6" x2="131.53" y2="659.5"/>
<line x1="126.18" y1="658.6" x2="136.88" y2="658.6"/>
<line x1="131.53" y1="663.5" x2="131.53" y2="665.1"/>
<line x1="126.18" y1="665.1" x2="136.88" y2="665.1"/>
</g>
<rect x="121.88" y="659.5" width="19.3" height="4" fill="#6fa389" stroke="#7fb096" stroke-width="1"/>
<line x1="121.48" y1="660.5" x2="141.58" y2="660.5" stroke="#263d31" stroke-width="1.8"/>
<text x="0" y="0" transform="translate(131.53 653.7) scale(1 1.1) translate(0 0)" font-family="Liberation Serif" font-size="15.5" fill="#111" text-anchor="middle">c</text>
<g stroke="#80b49a" stroke-width="1.35">
<line x1="155.68" y1="595.5" x2="155.68" y2="599.4"/>
<line x1="150.33" y1="595.5" x2="161.03" y2="595.5"/>
<line x1="155.68" y1="608.2" x2="155.68" y2="609.5"/>
<line x1="150.33" y1="609.5" x2="161.03" y2="609.5"/>
</g>
<rect x="146.03" y="599.4" width="19.3" height="8.8" fill="#6fa389" stroke="#7fb096" stroke-width="1"/>
<line x1="145.63" y1="606.5" x2="165.73" y2="606.5" stroke="#263d31" stroke-width="1.8"/>
<text x="0" y="0" transform="translate(155.68 590.1) scale(1 1.1) translate(0 0)" font-family="Liberation Serif" font-size="15.5" fill="#111" text-anchor="middle">a</text>
<g stroke="#80b49a" stroke-width="1.35">
<line x1="203.96" y1="599.4" x2="203.96" y2="604.4"/>
<line x1="198.61" y1="599.4" x2="209.31" y2="599.4"/>
<line x1="203.96" y1="618.5" x2="203.96" y2="623.4"/>
<line x1="198.61" y1="623.4" x2="209.31" y2="623.4"/>
</g>
<rect x="194.31" y="604.4" width="19.3" height="14.1" fill="#6fa389" stroke="#7fb096" stroke-width="1"/>
<line x1="193.91" y1="611.4" x2="214.01" y2="611.4" stroke="#263d31" stroke-width="1.8"/>
<text x="0" y="0" transform="translate(203.96 594.1) scale(1 1.1) translate(0 0)" font-family="Liberation Serif" font-size="15.5" fill="#111" text-anchor="middle">b</text>
<g stroke="#80b49a" stroke-width="1.35">
<line x1="228.11" y1="626.3" x2="228.11" y2="628.4"/>
<line x1="222.76" y1="626.3" x2="233.46" y2="626.3"/>
<line x1="228.11" y1="637.6" x2="228.11" y2="641.3"/>
<line x1="222.76" y1="641.3" x2="233.46" y2="641.3"/>
</g>
<rect x="218.46" y="628.4" width="19.3" height="9.2" fill="#6fa389" stroke="#7fb096" stroke-width="1"/>
<line x1="218.06" y1="630.7" x2="238.16" y2="630.7" stroke="#263d31" stroke-width="1.8"/>
<text x="0" y="0" transform="translate(228.11 620.6) scale(1 1.1) translate(0 0)" font-family="Liberation Serif" font-size="15.5" fill="#111" text-anchor="middle">c</text>
<g stroke="#80b49a" stroke-width="1.35">
<line x1="252.25" y1="626.4" x2="252.25" y2="627.1"/>
<line x1="246.9" y1="627.1" x2="257.6" y2="627.1"/>
</g>
<rect x="242.6" y="624.8" width="19.3" height="1.6" fill="#6fa389" stroke="#7fb096" stroke-width="1"/>
<line x1="242.2" y1="625.6" x2="262.3" y2="625.6" stroke="#263d31" stroke-width="1.8"/>
<text x="0" y="0" transform="translate(252.25 614.4) scale(1 1.1) translate(0 0)" font-family="Liberation Serif" font-size="15.5" fill="#111" text-anchor="middle">bc</text>
<g stroke="#80b49a" stroke-width="1.35">
<line x1="276.4" y1="597.1" x2="276.4" y2="599.4"/>
<line x1="271.05" y1="597.1" x2="281.75" y2="597.1"/>
<line x1="276.4" y1="610" x2="276.4" y2="614.6"/>
<line x1="271.05" y1="614.6" x2="281.75" y2="614.6"/>
</g>
<rect x="266.75" y="599.4" width="19.3" height="10.6" fill="#6fa389" stroke="#7fb096" stroke-width="1"/>
<line x1="266.35" y1="602.6" x2="286.45" y2="602.6" stroke="#263d31" stroke-width="1.8"/>
<text x="0" y="0" transform="translate(276.4 591.5) scale(1 1.1) translate(0 0)" font-family="Liberation Serif" font-size="15.5" fill="#111" text-anchor="middle">a</text>
<g stroke="#80b49a" stroke-width="1.35">
<line x1="324.68" y1="611.1" x2="324.68" y2="618.5"/>
<line x1="319.33" y1="611.1" x2="330.03" y2="611.1"/>
<line x1="324.68" y1="637.9" x2="324.68" y2="644.4"/>
<line x1="319.33" y1="644.4" x2="330.03" y2="644.4"/>
</g>
<rect x="315.03" y="618.5" width="19.3" height="19.4" fill="#6fa389" stroke="#7fb096" stroke-width="1"/>
<line x1="314.63" y1="628.9" x2="334.73" y2="628.9" stroke="#263d31" stroke-width="1.8"/>
<text x="0" y="0" transform="translate(324.68 605.1) scale(1 1.1) translate(0 0)" font-family="Liberation Serif" font-size="15.5" fill="#111" text-anchor="middle">b</text>
<g stroke="#80b49a" stroke-width="1.35">
<line x1="348.83" y1="626.8" x2="348.83" y2="633.1"/>
<line x1="343.48" y1="626.8" x2="354.18" y2="626.8"/>
<line x1="348.83" y1="653.5" x2="348.83" y2="661.6"/>
<line x1="343.48" y1="661.6" x2="354.18" y2="661.6"/>
</g>
<rect x="339.18" y="633.1" width="19.3" height="20.4" fill="#6fa389" stroke="#7fb096" stroke-width="1"/>
<line x1="338.78" y1="641.8" x2="358.88" y2="641.8" stroke="#263d31" stroke-width="1.8"/>
<text x="0" y="0" transform="translate(348.83 622.9) scale(1 1.1) translate(0 0)" font-family="Liberation Serif" font-size="15.5" fill="#111" text-anchor="middle">ab</text>
<g stroke="#80b49a" stroke-width="1.35">
<line x1="372.97" y1="616.7" x2="372.97" y2="623.3"/>
<line x1="367.62" y1="616.7" x2="378.32" y2="616.7"/>
<line x1="372.97" y1="639.7" x2="372.97" y2="645"/>
<line x1="367.62" y1="645" x2="378.32" y2="645"/>
</g>
<rect x="363.32" y="623.3" width="19.3" height="16.4" fill="#6fa389" stroke="#7fb096" stroke-width="1"/>
<line x1="362.92" y1="632.6" x2="383.02" y2="632.6" stroke="#263d31" stroke-width="1.8"/>
<text x="0" y="0" transform="translate(372.97 611.4) scale(1 1.1) translate(0 0)" font-family="Liberation Serif" font-size="15.5" fill="#111" text-anchor="middle">ab</text>
<g stroke="#80b49a" stroke-width="1.35">
<line x1="397.12" y1="584.9" x2="397.12" y2="588.8"/>
<line x1="391.77" y1="584.9" x2="402.47" y2="584.9"/>
<line x1="397.12" y1="596.9" x2="397.12" y2="598"/>
<line x1="391.77" y1="598" x2="402.47" y2="598"/>
</g>
<rect x="387.47" y="588.8" width="19.3" height="8.1" fill="#6fa389" stroke="#7fb096" stroke-width="1"/>
<line x1="387.07" y1="595.4" x2="407.17" y2="595.4" stroke="#263d31" stroke-width="1.8"/>
<text x="0" y="0" transform="translate(397.12 579.6) scale(1 1.1) translate(0 0)" font-family="Liberation Serif" font-size="15.5" fill="#111" text-anchor="middle">a</text>
<g stroke="#80b49a" stroke-width="1.35">
<line x1="445.4" y1="635.1" x2="445.4" y2="636.9"/>
<line x1="440.05" y1="635.1" x2="450.75" y2="635.1"/>
<line x1="445.4" y1="642.9" x2="445.4" y2="645"/>
<line x1="440.05" y1="645" x2="450.75" y2="645"/>
</g>
<rect x="435.75" y="636.9" width="19.3" height="6" fill="#6fa389" stroke="#7fb096" stroke-width="1"/>
<line x1="435.35" y1="639.2" x2="455.45" y2="639.2" stroke="#263d31" stroke-width="1.8"/>
<text x="0" y="0" transform="translate(445.4 627.7) scale(1 1.1) translate(0 0)" font-family="Liberation Serif" font-size="15.5" fill="#111" text-anchor="middle">b</text>
<g stroke="#80b49a" stroke-width="1.35">
<line x1="469.55" y1="657.7" x2="469.55" y2="658.9"/>
<line x1="464.2" y1="657.7" x2="474.9" y2="657.7"/>
<line x1="469.55" y1="666.5" x2="469.55" y2="669.5"/>
<line x1="464.2" y1="669.5" x2="474.9" y2="669.5"/>
</g>
<rect x="459.9" y="658.9" width="19.3" height="7.6" fill="#6fa389" stroke="#7fb096" stroke-width="1"/>
<line x1="459.5" y1="660.3" x2="479.6" y2="660.3" stroke="#263d31" stroke-width="1.8"/>
<text x="0" y="0" transform="translate(469.55 651.2) scale(1 1.1) translate(0 0)" font-family="Liberation Serif" font-size="15.5" fill="#111" text-anchor="middle">b</text>
<g stroke="#80b49a" stroke-width="1.35">
<line x1="493.69" y1="618" x2="493.69" y2="630"/>
<line x1="488.34" y1="618" x2="499.04" y2="618"/>
<line x1="493.69" y1="663.9" x2="493.69" y2="675.7"/>
<line x1="488.34" y1="675.7" x2="499.04" y2="675.7"/>
</g>
<rect x="484.04" y="630" width="19.3" height="33.9" fill="#6fa389" stroke="#7fb096" stroke-width="1"/>
<line x1="483.64" y1="647.3" x2="503.74" y2="647.3" stroke="#263d31" stroke-width="1.8"/>
<text x="0" y="0" transform="translate(493.69 610.6) scale(1 1.1) translate(0 0)" font-family="Liberation Serif" font-size="15.5" fill="#111" text-anchor="middle">b</text>
<g stroke="#80b49a" stroke-width="1.35">
<line x1="517.84" y1="570.4" x2="517.84" y2="571.5"/>
<line x1="512.49" y1="570.4" x2="523.19" y2="570.4"/>
<line x1="517.84" y1="575" x2="517.84" y2="576.3"/>
<line x1="512.49" y1="576.3" x2="523.19" y2="576.3"/>
</g>
<rect x="508.19" y="571.5" width="19.3" height="3.5" fill="#6fa389" stroke="#7fb096" stroke-width="1"/>
<line x1="507.79" y1="572.6" x2="527.89" y2="572.6" stroke="#263d31" stroke-width="1.8"/>
<text x="0" y="0" transform="translate(517.84 562.9) scale(1 1.1) translate(0 0)" font-family="Liberation Serif" font-size="15.5" fill="#111" text-anchor="middle">a</text>
<g stroke="#80b49a" stroke-width="1.35">
<line x1="566.12" y1="643.7" x2="566.12" y2="645.9"/>
<line x1="560.77" y1="643.7" x2="571.47" y2="643.7"/>
<line x1="566.12" y1="651.7" x2="566.12" y2="653.3"/>
<line x1="560.77" y1="653.3" x2="571.47" y2="653.3"/>
</g>
<rect x="556.47" y="645.9" width="19.3" height="5.8" fill="#6fa389" stroke="#7fb096" stroke-width="1"/>
<line x1="556.07" y1="648.9" x2="576.17" y2="648.9" stroke="#263d31" stroke-width="1.8"/>
<text x="0" y="0" transform="translate(566.12 637.4) scale(1 1.1) translate(0 0)" font-family="Liberation Serif" font-size="15.5" fill="#111" text-anchor="middle">d</text>
<g stroke="#80b49a" stroke-width="1.35">
<line x1="590.27" y1="627.7" x2="590.27" y2="629.4"/>
<line x1="584.92" y1="627.7" x2="595.62" y2="627.7"/>
<line x1="590.27" y1="635.3" x2="590.27" y2="637.4"/>
<line x1="584.92" y1="637.4" x2="595.62" y2="637.4"/>
</g>
<rect x="580.62" y="629.4" width="19.3" height="5.9" fill="#6fa389" stroke="#7fb096" stroke-width="1"/>
<line x1="580.22" y1="632.3" x2="600.32" y2="632.3" stroke="#263d31" stroke-width="1.8"/>
<text x="0" y="0" transform="translate(590.27 621) scale(1 1.1) translate(0 0)" font-family="Liberation Serif" font-size="15.5" fill="#111" text-anchor="middle">c</text>
<g stroke="#80b49a" stroke-width="1.35">
<line x1="614.41" y1="589.5" x2="614.41" y2="595.9"/>
<line x1="609.06" y1="589.5" x2="619.76" y2="589.5"/>
<line x1="614.41" y1="612.7" x2="614.41" y2="617.6"/>
<line x1="609.06" y1="617.6" x2="619.76" y2="617.6"/>
</g>
<rect x="604.76" y="595.9" width="19.3" height="16.8" fill="#6fa389" stroke="#7fb096" stroke-width="1"/>
<line x1="604.36" y1="605.6" x2="624.46" y2="605.6" stroke="#263d31" stroke-width="1.8"/>
<text x="0" y="0" transform="translate(614.41 584.1) scale(1 1.1) translate(0 0)" font-family="Liberation Serif" font-size="15.5" fill="#111" text-anchor="middle">b</text>
<g stroke="#80b49a" stroke-width="1.35">
<line x1="638.56" y1="578.6" x2="638.56" y2="580.3"/>
<line x1="633.21" y1="580.3" x2="643.91" y2="580.3"/>
</g>
<rect x="628.91" y="573.8" width="19.3" height="4.8" fill="#6fa389" stroke="#7fb096" stroke-width="1"/>
<line x1="628.51" y1="575" x2="648.61" y2="575" stroke="#263d31" stroke-width="1.8"/>
<text x="0" y="0" transform="translate(638.56 565.3) scale(1 1.1) translate(0 0)" font-family="Liberation Serif" font-size="15.5" fill="#111" text-anchor="middle">a</text>
<rect x="59.1" y="527.2" width="603.6" height="153.4" fill="none" stroke="#444444" stroke-width="1.6"/>
<g stroke="#444444" stroke-width="1.1">
<line x1="59.1" y1="543.4" x2="63.8" y2="543.4"/>
<line x1="59.1" y1="592.3" x2="63.8" y2="592.3"/>
<line x1="59.1" y1="641.5" x2="63.8" y2="641.5"/>
</g>
<g font-family="Liberation Serif" font-size="15.4" fill="#111" text-anchor="end">
<text transform="translate(53.2 548) scale(0.89 0.97)">45</text>
<text transform="translate(53.2 596.9) scale(0.89 0.97)">30</text>
<text transform="translate(53.2 646.1) scale(0.89 0.97)">15</text>
</g>
<text x="360.2" y="551" font-family="Liberation Serif" font-size="20.5" fill="#111" text-anchor="middle">(d)</text>
<text transform="translate(681.3 603.9) rotate(-90)" font-family="Liberation Serif" font-weight="bold" font-size="15.5" fill="#111" text-anchor="middle"><tspan font-size="16.6">30.1</tspan> mm</text>
<g stroke="#c8c8c8" stroke-width="1.2" stroke-dasharray="1 2">
<line x1="180.44" y1="693.6" x2="180.44" y2="845.4"/>
<line x1="301.18" y1="693.6" x2="301.18" y2="845.4"/>
<line x1="421.92" y1="693.6" x2="421.92" y2="845.4"/>
<line x1="542.66" y1="693.6" x2="542.66" y2="845.4"/>
</g>
<g stroke="#80b49a" stroke-width="1.35">
<line x1="83.85" y1="760.5" x2="83.85" y2="763.4"/>
<line x1="78.5" y1="763.4" x2="89.2" y2="763.4"/>
</g>
<rect x="74.2" y="753.5" width="19.3" height="7" fill="#6fa389" stroke="#7fb096" stroke-width="1"/>
<line x1="73.8" y1="754" x2="93.9" y2="754" stroke="#263d31" stroke-width="1.8"/>
<text x="0" y="0" transform="translate(83.85 742) scale(1 1.1) translate(0 0)" font-family="Liberation Serif" font-size="15.5" fill="#111" text-anchor="middle">b</text>
<g stroke="#80b49a" stroke-width="1.35">
</g>
<rect x="98.35" y="762.8" width="19.3" height="2" fill="#6fa389" stroke="#7fb096" stroke-width="1"/>
<line x1="97.95" y1="763.9" x2="118.05" y2="763.9" stroke="#263d31" stroke-width="1.8"/>
<text x="0" y="0" transform="translate(108 752.9) scale(1 1.1) translate(0 0)" font-family="Liberation Serif" font-size="15.5" fill="#111" text-anchor="middle">b</text>
<g stroke="#80b49a" stroke-width="1.35">
<line x1="132.14" y1="758.6" x2="132.14" y2="761.2"/>
<line x1="126.79" y1="758.6" x2="137.49" y2="758.6"/>
<line x1="132.14" y1="769.2" x2="132.14" y2="772.4"/>
<line x1="126.79" y1="772.4" x2="137.49" y2="772.4"/>
</g>
<rect x="122.49" y="761.2" width="19.3" height="8" fill="#6fa389" stroke="#7fb096" stroke-width="1"/>
<line x1="122.09" y1="764.4" x2="142.19" y2="764.4" stroke="#263d31" stroke-width="1.8"/>
<text x="0" y="0" transform="translate(132.14 750.8) scale(1 1.1) translate(0 0)" font-family="Liberation Serif" font-size="15.5" fill="#111" text-anchor="middle">b</text>
<g stroke="#80b49a" stroke-width="1.35">
<line x1="156.29" y1="730.3" x2="156.29" y2="735.3"/>
<line x1="150.94" y1="730.3" x2="161.64" y2="730.3"/>
<line x1="156.29" y1="746" x2="156.29" y2="747.3"/>
<line x1="150.94" y1="747.3" x2="161.64" y2="747.3"/>
</g>
<rect x="146.64" y="735.3" width="19.3" height="10.7" fill="#6fa389" stroke="#7fb096" stroke-width="1"/>
<line x1="146.24" y1="744.5" x2="166.34" y2="744.5" stroke="#263d31" stroke-width="1.8"/>
<text x="0" y="0" transform="translate(156.29 723.8) scale(1 1.1) translate(0 0)" font-family="Liberation Serif" font-size="15.5" fill="#111" text-anchor="middle">a</text>
<g stroke="#80b49a" stroke-width="1.35">
<line x1="204.59" y1="765.6" x2="204.59" y2="767.2"/>
<line x1="199.24" y1="767.2" x2="209.94" y2="767.2"/>
</g>
<rect x="194.94" y="762.3" width="19.3" height="3.3" fill="#6fa389" stroke="#7fb096" stroke-width="1"/>
<line x1="194.54" y1="762.6" x2="214.64" y2="762.6" stroke="#263d31" stroke-width="1.8"/>
<text x="0" y="0" transform="translate(204.59 759.5) scale(1 1.1) translate(0 0)" font-family="Liberation Serif" font-size="15.5" fill="#111" text-anchor="middle">b</text>
<g stroke="#80b49a" stroke-width="1.35">
<line x1="228.74" y1="779.2" x2="228.74" y2="783"/>
<line x1="223.39" y1="783" x2="234.09" y2="783"/>
</g>
<rect x="219.09" y="770.8" width="19.3" height="8.4" fill="#6fa389" stroke="#7fb096" stroke-width="1"/>
<line x1="218.69" y1="771.5" x2="238.79" y2="771.5" stroke="#263d31" stroke-width="1.8"/>
<text x="0" y="0" transform="translate(228.74 764.1) scale(1 1.1) translate(0 0)" font-family="Liberation Serif" font-size="15.5" fill="#111" text-anchor="middle">c</text>
<g stroke="#80b49a" stroke-width="1.35">
<line x1="252.88" y1="748.5" x2="252.88" y2="750.3"/>
<line x1="247.53" y1="748.5" x2="258.23" y2="748.5"/>
<line x1="252.88" y1="760.2" x2="252.88" y2="764.4"/>
<line x1="247.53" y1="764.4" x2="258.23" y2="764.4"/>
</g>
<rect x="243.23" y="750.3" width="19.3" height="9.9" fill="#6fa389" stroke="#7fb096" stroke-width="1"/>
<line x1="242.83" y1="752.6" x2="262.93" y2="752.6" stroke="#263d31" stroke-width="1.8"/>
<text x="0" y="0" transform="translate(252.88 736.7) scale(1 1.1) translate(0 0)" font-family="Liberation Serif" font-size="15.5" fill="#111" text-anchor="middle">b</text>
<g stroke="#80b49a" stroke-width="1.35">
<line x1="277.03" y1="734.6" x2="277.03" y2="735.3"/>
<line x1="271.68" y1="734.6" x2="282.38" y2="734.6"/>
<line x1="277.03" y1="738.4" x2="277.03" y2="739.3"/>
<line x1="271.68" y1="739.3" x2="282.38" y2="739.3"/>
</g>
<rect x="267.38" y="735.3" width="19.3" height="3.1" fill="#6fa389" stroke="#7fb096" stroke-width="1"/>
<line x1="266.98" y1="737.4" x2="287.08" y2="737.4" stroke="#263d31" stroke-width="1.8"/>
<text x="0" y="0" transform="translate(277.03 726.5) scale(1 1.1) translate(0 0)" font-family="Liberation Serif" font-size="15.5" fill="#111" text-anchor="middle">a</text>
<g stroke="#80b49a" stroke-width="1.35">
<line x1="325.33" y1="769.4" x2="325.33" y2="772"/>
<line x1="319.98" y1="769.4" x2="330.68" y2="769.4"/>
<line x1="325.33" y1="777.8" x2="325.33" y2="779.1"/>
<line x1="319.98" y1="779.1" x2="330.68" y2="779.1"/>
</g>
<rect x="315.68" y="772" width="19.3" height="5.8" fill="#6fa389" stroke="#7fb096" stroke-width="1"/>
<line x1="315.28" y1="775.5" x2="335.38" y2="775.5" stroke="#263d31" stroke-width="1.8"/>
<text x="0" y="0" transform="translate(325.33 762.3) scale(1 1.1) translate(0 0)" font-family="Liberation Serif" font-size="15.5" fill="#111" text-anchor="middle">ab</text>
<g stroke="#80b49a" stroke-width="1.35">
<line x1="349.48" y1="768.7" x2="349.48" y2="770.1"/>
<line x1="344.13" y1="768.7" x2="354.83" y2="768.7"/>
<line x1="349.48" y1="781.5" x2="349.48" y2="787.4"/>
<line x1="344.13" y1="787.4" x2="354.83" y2="787.4"/>
</g>
<rect x="339.83" y="770.1" width="19.3" height="11.4" fill="#6fa389" stroke="#7fb096" stroke-width="1"/>
<line x1="339.43" y1="772" x2="359.53" y2="772" stroke="#263d31" stroke-width="1.8"/>
<text x="0" y="0" transform="translate(349.48 761.4) scale(1 1.1) translate(0 0)" font-family="Liberation Serif" font-size="15.5" fill="#111" text-anchor="middle">ab</text>
<g stroke="#80b49a" stroke-width="1.35">
<line x1="373.62" y1="778.7" x2="373.62" y2="782.4"/>
<line x1="368.27" y1="778.7" x2="378.97" y2="778.7"/>
<line x1="373.62" y1="791.3" x2="373.62" y2="792.3"/>
<line x1="368.27" y1="792.3" x2="378.97" y2="792.3"/>
</g>
<rect x="363.97" y="782.4" width="19.3" height="8.9" fill="#6fa389" stroke="#7fb096" stroke-width="1"/>
<line x1="363.57" y1="789.1" x2="383.67" y2="789.1" stroke="#263d31" stroke-width="1.8"/>
<text x="0" y="0" transform="translate(373.62 772.4) scale(1 1.1) translate(0 0)" font-family="Liberation Serif" font-size="15.5" fill="#111" text-anchor="middle">b</text>
<g stroke="#80b49a" stroke-width="1.35">
<line x1="397.77" y1="754.5" x2="397.77" y2="757"/>
<line x1="392.42" y1="754.5" x2="403.12" y2="754.5"/>
<line x1="397.77" y1="766.5" x2="397.77" y2="770.6"/>
<line x1="392.42" y1="770.6" x2="403.12" y2="770.6"/>
</g>
<rect x="388.12" y="757" width="19.3" height="9.5" fill="#6fa389" stroke="#7fb096" stroke-width="1"/>
<line x1="387.72" y1="759.5" x2="407.82" y2="759.5" stroke="#263d31" stroke-width="1.8"/>
<text x="0" y="0" transform="translate(397.77 750.3) scale(1 1.1) translate(0 0)" font-family="Liberation Serif" font-size="15.5" fill="#111" text-anchor="middle">a</text>
<g stroke="#80b49a" stroke-width="1.35">
<line x1="446.07" y1="768.5" x2="446.07" y2="771.1"/>
<line x1="440.72" y1="768.5" x2="451.42" y2="768.5"/>
<line x1="446.07" y1="781.5" x2="446.07" y2="785.6"/>
<line x1="440.72" y1="785.6" x2="451.42" y2="785.6"/>
</g>
<rect x="436.42" y="771.1" width="19.3" height="10.4" fill="#6fa389" stroke="#7fb096" stroke-width="1"/>
<line x1="436.02" y1="775" x2="456.12" y2="775" stroke="#263d31" stroke-width="1.8"/>
<text x="0" y="0" transform="translate(446.07 763.2) scale(1 1.1) translate(0 0)" font-family="Liberation Serif" font-size="15.5" fill="#111" text-anchor="middle">ab</text>
<g stroke="#80b49a" stroke-width="1.35">
<line x1="470.22" y1="801.9" x2="470.22" y2="806.4"/>
<line x1="464.87" y1="806.4" x2="475.57" y2="806.4"/>
</g>
<rect x="460.57" y="792.3" width="19.3" height="9.6" fill="#6fa389" stroke="#7fb096" stroke-width="1"/>
<line x1="460.17" y1="793.2" x2="480.27" y2="793.2" stroke="#263d31" stroke-width="1.8"/>
<text x="0" y="0" transform="translate(470.22 785.6) scale(1 1.1) translate(0 0)" font-family="Liberation Serif" font-size="15.5" fill="#111" text-anchor="middle">b</text>
<g stroke="#80b49a" stroke-width="1.35">
</g>
<rect x="484.71" y="784.9" width="19.3" height="1.6" fill="#6fa389" stroke="#7fb096" stroke-width="1"/>
<line x1="484.31" y1="785.4" x2="504.41" y2="785.4" stroke="#263d31" stroke-width="1.8"/>
<text x="0" y="0" transform="translate(494.36 775) scale(1 1.1) translate(0 0)" font-family="Liberation Serif" font-size="15.5" fill="#111" text-anchor="middle">ab</text>
<g stroke="#80b49a" stroke-width="1.35">
<line x1="518.51" y1="775" x2="518.51" y2="776.1"/>
<line x1="513.16" y1="776.1" x2="523.86" y2="776.1"/>
</g>
<rect x="508.86" y="772.2" width="19.3" height="2.8" fill="#6fa389" stroke="#7fb096" stroke-width="1"/>
<line x1="508.46" y1="773.2" x2="528.56" y2="773.2" stroke="#263d31" stroke-width="1.8"/>
<text x="0" y="0" transform="translate(518.51 754.4) scale(1 1.1) translate(0 0)" font-family="Liberation Serif" font-size="15.5" fill="#111" text-anchor="middle">a</text>
<g stroke="#80b49a" stroke-width="1.35">
<line x1="566.81" y1="794.1" x2="566.81" y2="796.7"/>
<line x1="561.46" y1="796.7" x2="572.16" y2="796.7"/>
</g>
<rect x="557.16" y="788.3" width="19.3" height="5.8" fill="#6fa389" stroke="#7fb096" stroke-width="1"/>
<line x1="556.76" y1="788.4" x2="576.86" y2="788.4" stroke="#263d31" stroke-width="1.8"/>
<text x="0" y="0" transform="translate(566.81 780.7) scale(1 1.1) translate(0 0)" font-family="Liberation Serif" font-size="15.5" fill="#111" text-anchor="middle">b</text>
<g stroke="#80b49a" stroke-width="1.35">
<line x1="590.96" y1="811.6" x2="590.96" y2="813.2"/>
<line x1="585.61" y1="811.6" x2="596.31" y2="811.6"/>
<line x1="590.96" y1="827.3" x2="590.96" y2="833.6"/>
<line x1="585.61" y1="833.6" x2="596.31" y2="833.6"/>
</g>
<rect x="581.31" y="813.2" width="19.3" height="14.1" fill="#6fa389" stroke="#7fb096" stroke-width="1"/>
<line x1="580.91" y1="814.6" x2="601.01" y2="814.6" stroke="#263d31" stroke-width="1.8"/>
<text x="0" y="0" transform="translate(590.96 803.3) scale(1 1.1) translate(0 0)" font-family="Liberation Serif" font-size="15.5" fill="#111" text-anchor="middle">c</text>
<g stroke="#80b49a" stroke-width="1.35">
<line x1="615.1" y1="781.5" x2="615.1" y2="788.4"/>
<line x1="609.75" y1="781.5" x2="620.45" y2="781.5"/>
<line x1="615.1" y1="804.2" x2="615.1" y2="807.7"/>
<line x1="609.75" y1="807.7" x2="620.45" y2="807.7"/>
</g>
<rect x="605.45" y="788.4" width="19.3" height="15.8" fill="#6fa389" stroke="#7fb096" stroke-width="1"/>
<line x1="605.05" y1="799.4" x2="625.15" y2="799.4" stroke="#263d31" stroke-width="1.8"/>
<text x="0" y="0" transform="translate(615.1 775.9) scale(1 1.1) translate(0 0)" font-family="Liberation Serif" font-size="15.5" fill="#111" text-anchor="middle">b</text>
<g stroke="#80b49a" stroke-width="1.35">
<line x1="639.25" y1="766.4" x2="639.25" y2="767.6"/>
<line x1="633.9" y1="766.4" x2="644.6" y2="766.4"/>
<line x1="639.25" y1="776.4" x2="639.25" y2="780"/>
<line x1="633.9" y1="780" x2="644.6" y2="780"/>
</g>
<rect x="629.6" y="767.6" width="19.3" height="8.8" fill="#6fa389" stroke="#7fb096" stroke-width="1"/>
<line x1="629.2" y1="769.2" x2="649.3" y2="769.2" stroke="#263d31" stroke-width="1.8"/>
<text x="0" y="0" transform="translate(639.25 752.1) scale(1 1.1) translate(0 0)" font-family="Liberation Serif" font-size="15.5" fill="#111" text-anchor="middle">a</text>
<rect x="59.7" y="692.6" width="603.7" height="153.8" fill="none" stroke="#444444" stroke-width="1.6"/>
<g stroke="#444444" stroke-width="1.1">
<line x1="59.7" y1="748.4" x2="64.4" y2="748.4"/>
<line x1="59.7" y1="804.1" x2="64.4" y2="804.1"/>
</g>
<g font-family="Liberation Serif" font-size="15.4" fill="#111" text-anchor="end">
<text transform="translate(53.8 697.2) scale(0.89 0.97)">80</text>
<text transform="translate(53.8 753) scale(0.89 0.97)">60</text>
<text transform="translate(53.8 808.7) scale(0.89 0.97)">40</text>
</g>
<text x="361.3" y="716.5" font-family="Liberation Serif" font-size="20.5" fill="#111" text-anchor="middle">(e)</text>
<text transform="translate(680.8 769.5) rotate(-90)" font-family="Liberation Serif" font-weight="bold" font-size="15.5" fill="#111" text-anchor="middle"><tspan font-size="16.6">47.3</tspan> mm</text>
<g stroke="#444444" stroke-width="1.3">
<line x1="74.79" y1="846.4" x2="74.79" y2="851.4"/>
<line x1="104.98" y1="846.4" x2="104.98" y2="851.4"/>
<line x1="135.16" y1="846.4" x2="135.16" y2="851.4"/>
<line x1="165.35" y1="846.4" x2="165.35" y2="851.4"/>
<line x1="195.53" y1="846.4" x2="195.53" y2="851.4"/>
<line x1="225.72" y1="846.4" x2="225.72" y2="851.4"/>
<line x1="255.9" y1="846.4" x2="255.9" y2="851.4"/>
<line x1="286.09" y1="846.4" x2="286.09" y2="851.4"/>
<line x1="316.27" y1="846.4" x2="316.27" y2="851.4"/>
<line x1="346.46" y1="846.4" x2="346.46" y2="851.4"/>
<line x1="376.64" y1="846.4" x2="376.64" y2="851.4"/>
<line x1="406.83" y1="846.4" x2="406.83" y2="851.4"/>
<line x1="437.01" y1="846.4" x2="437.01" y2="851.4"/>
<line x1="467.2" y1="846.4" x2="467.2" y2="851.4"/>
<line x1="497.38" y1="846.4" x2="497.38" y2="851.4"/>
<line x1="527.57" y1="846.4" x2="527.57" y2="851.4"/>
<line x1="557.75" y1="846.4" x2="557.75" y2="851.4"/>
<line x1="587.94" y1="846.4" x2="587.94" y2="851.4"/>
<line x1="618.12" y1="846.4" x2="618.12" y2="851.4"/>
<line x1="648.31" y1="846.4" x2="648.31" y2="851.4"/>
<line x1="663.4" y1="846.4" x2="663.4" y2="851.4"/>
</g>
<g font-family="Liberation Serif" font-size="15.7" fill="#111" text-anchor="end">
<text transform="translate(80.59 857.8) rotate(-90) scale(1 0.9)">40-60 years</text>
<text transform="translate(110.78 857.8) rotate(-90) scale(1 0.9)">60-90 years</text>
<text transform="translate(140.96 857.8) rotate(-90) scale(1 0.9)">120-150 years</text>
<text transform="translate(171.15 857.8) rotate(-90) scale(1 0.9)">&gt;150 years</text>
<text transform="translate(201.33 857.8) rotate(-90) scale(1 0.9)">40-60 years</text>
<text transform="translate(231.52 857.8) rotate(-90) scale(1 0.9)">60-90 years</text>
<text transform="translate(261.7 857.8) rotate(-90) scale(1 0.9)">120-150 years</text>
<text transform="translate(291.89 857.8) rotate(-90) scale(1 0.9)">&gt;150 years</text>
<text transform="translate(322.07 857.8) rotate(-90) scale(1 0.9)">40-60 years</text>
<text transform="translate(352.26 857.8) rotate(-90) scale(1 0.9)">60-90 years</text>
<text transform="translate(382.44 857.8) rotate(-90) scale(1 0.9)">120-150 years</text>
<text transform="translate(412.63 857.8) rotate(-90) scale(1 0.9)">&gt;150 years</text>
<text transform="translate(442.81 857.8) rotate(-90) scale(1 0.9)">40-60 years</text>
<text transform="translate(473 857.8) rotate(-90) scale(1 0.9)">60-90 years</text>
<text transform="translate(503.18 857.8) rotate(-90) scale(1 0.9)">120-150 years</text>
<text transform="translate(533.37 857.8) rotate(-90) scale(1 0.9)">&gt;150 years</text>
<text transform="translate(563.55 857.8) rotate(-90) scale(1 0.9)">40-60 years</text>
<text transform="translate(593.74 857.8) rotate(-90) scale(1 0.9)">60-90 years</text>
<text transform="translate(623.92 857.8) rotate(-90) scale(1 0.9)">120-150 years</text>
<text transform="translate(648.51 857.8) rotate(-90) scale(1 0.9)">&gt;150 years</text>
</g>
<text transform="translate(16 449.3) rotate(-90)" font-family="Liberation Serif" font-size="20.85" fill="#111" text-anchor="middle">The contribution of rainfall to soil water at different layers (%)</text>
</svg>
</body></html>
